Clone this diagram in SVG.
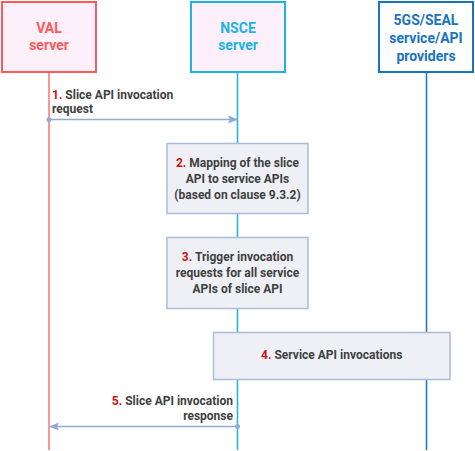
<svg xmlns="http://www.w3.org/2000/svg" width="475" height="451" viewBox="0 0 475 451">
<style>
text{font-family:Roboto,"Liberation Sans",Arial,sans-serif;font-weight:bold}
.h{font-size:14px;text-anchor:middle}
.m{font-size:12px;fill:#404040}
.n{fill:#d01010}
.step{fill:#eef0f6;stroke:#a9bdd9;stroke-width:1.5}
.msg{stroke:#93acd4;stroke-width:1.5;fill:none}
</style>
<defs>
<marker id="ah" markerWidth="10" markerHeight="8" refX="9" refY="4" orient="auto" markerUnits="userSpaceOnUse">
<path d="M0,0 L10,4 L0,8 L2,4 Z" fill="#8eaad4"/>
</marker>
</defs>
<g id="lifelines">
<line x1="49" y1="72" x2="49" y2="450" stroke="#ff7070" stroke-width="1.5"/>
<line x1="237.5" y1="72" x2="237.5" y2="450" stroke="#1ab2e8" stroke-width="1.5"/>
<line x1="426.5" y1="72" x2="426.5" y2="450" stroke="#1a73c0" stroke-width="1.5"/>
</g>
<g id="val">
<rect x="2" y="2" width="94" height="70" fill="#fdf0fb" stroke="#ff5a5a" stroke-width="2"/>
<text class="h" x="49" y="33" fill="#ff5a5a">VAL</text>
<text class="h" x="49" y="50" fill="#ff5a5a">server</text>
</g>
<g id="nsce">
<rect x="191" y="2" width="94" height="70" fill="#fdf0fb" stroke="#1ab2e8" stroke-width="2"/>
<text class="h" x="238" y="33" fill="#1ab2e8">NSCE</text>
<text class="h" x="238" y="50" fill="#1ab2e8">server</text>
</g>
<g id="providers">
<rect x="379" y="2" width="94" height="70" fill="#ffffff" stroke="#1a73c0" stroke-width="2"/>
<text class="h" x="426" y="25" fill="#1a73c0">5GS/SEAL</text>
<text class="h" x="426" y="43" fill="#1a73c0">service/API</text>
<text class="h" x="426" y="61" fill="#1a73c0">providers</text>
</g>
<g id="step2">
<rect class="step" x="167" y="143.5" width="141" height="70"/>
<text class="m" text-anchor="middle"><tspan x="237.5" y="167"><tspan class="n">2.</tspan> Mapping of the slice</tspan><tspan x="237.5" y="183">API to service APIs</tspan><tspan x="237.5" y="199">(based on clause 9.3.2)</tspan></text>
</g>
<g id="step3">
<rect class="step" x="167" y="237.5" width="141" height="71"/>
<text class="m" text-anchor="middle"><tspan x="237.5" y="261"><tspan class="n">3.</tspan> Trigger invocation</tspan><tspan x="237.5" y="277">requests for all service</tspan><tspan x="237.5" y="293">APIs of slice API</tspan></text>
</g>
<g id="step4">
<rect class="step" x="213.5" y="332.5" width="236.5" height="47"/>
<text class="m" x="331.7" y="359" text-anchor="middle"><tspan class="n">4.</tspan> Service API invocations</text>
</g>
<g id="connectors">
<line class="msg" x1="49" y1="119.5" x2="237" y2="119.5" marker-end="url(#ah)"/>
<circle cx="49" cy="119.5" r="2.5" fill="#93acd4"/>
<text class="m" x="52" y="98.5"><tspan class="n">1.</tspan> Slice API invocation</text>
<text class="m" x="52" y="113">request</text>
<line class="msg" x1="237.5" y1="426.5" x2="50" y2="426.5" marker-end="url(#ah)"/>
<circle cx="237.5" cy="426.5" r="2.5" fill="#93acd4"/>
<text class="m" x="233" y="405" text-anchor="end"><tspan class="n">5.</tspan> Slice API invocation</text>
<text class="m" x="233" y="420" text-anchor="end">response</text>
</g>
</svg>
